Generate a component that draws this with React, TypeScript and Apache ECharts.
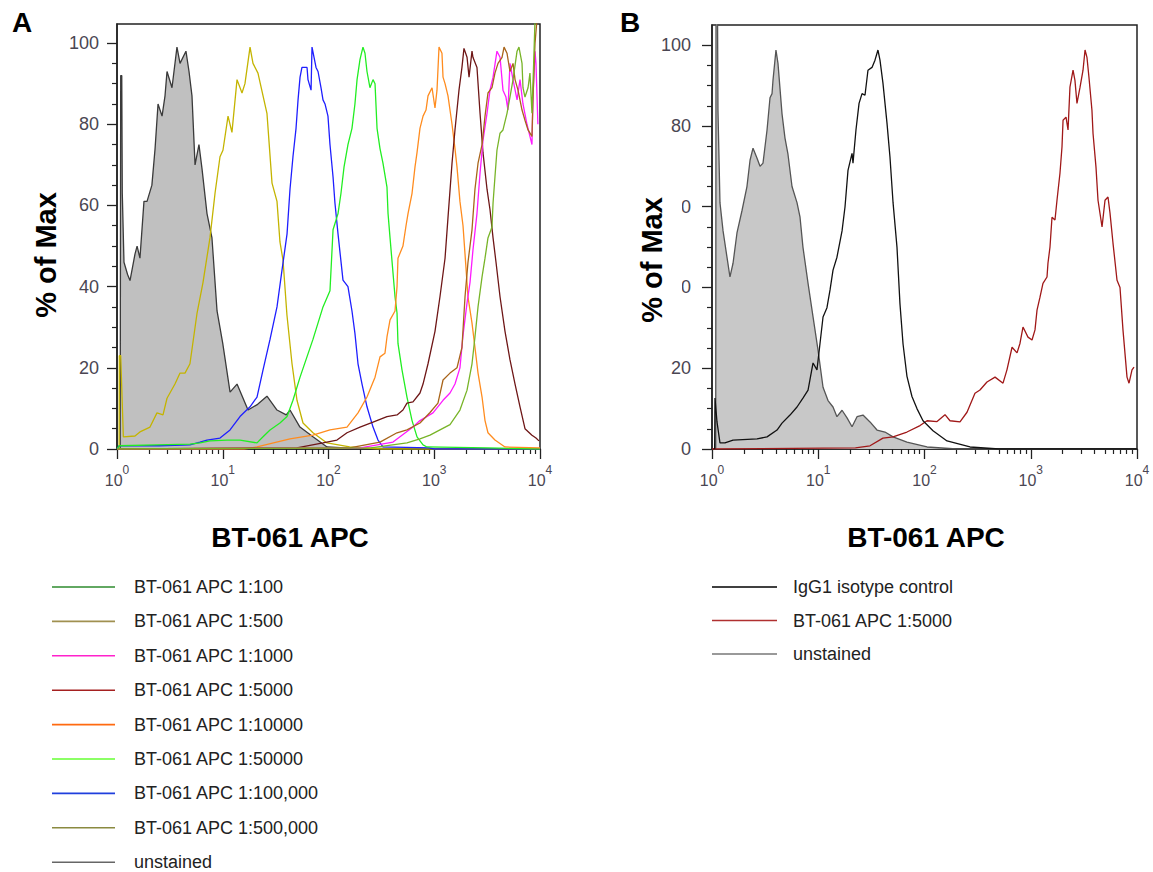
import React, { useEffect, useRef } from "react";
import * as echarts from "echarts";

const FONT = "'Liberation Sans', Arial, Helvetica, sans-serif";
const LABEL_COLOR = "#4a4652";
const AXIS_COLOR = "#222";

// x = log10(BT-061 APC intensity), y = % of Max
const decadeTicks = [0, 1, 2, 3, 4];
const yMajorTicks = [0, 20, 40, 60, 80, 100];
const yMinorTicks = [5, 10, 15, 25, 30, 35, 45, 50, 55, 65, 70, 75, 85, 90, 95];
const minorFactors = [2, 3, 4, 5, 6, 7, 8, 9];

// ---------- Panel A ----------
const aUnstained = [[0.03,0],[0.035,92],[0.045,92],[0.05,63],[0.066,46],[0.1,43],[0.123,41.5],[0.17,48],[0.19,50],[0.217,47],[0.255,61],[0.284,61],[0.33,65],[0.36,74],[0.388,85],[0.426,82],[0.454,87],[0.473,93],[0.52,89],[0.567,99],[0.596,95],[0.652,98],[0.681,93],[0.709,87],[0.738,70],[0.775,75],[0.804,69],[0.851,58],[0.898,52],[0.946,34],[1.0,26],[1.069,14],[1.135,16],[1.239,9.6],[1.33,11],[1.418,13],[1.513,9.6],[1.6,8.4],[1.636,9.6],[1.73,5.4],[1.853,3],[1.986,0.5],[2.2,0.2],[4,0]];
const a500000 = [[0,0],[0.02,0],[0.022,23],[0.035,23],[0.06,3],[0.17,3.2],[0.217,4.2],[0.312,5.4],[0.378,8.9],[0.435,8.4],[0.473,12.5],[0.548,16],[0.596,18.7],[0.643,18.7],[0.69,21],[0.757,33.5],[0.813,41],[0.879,52],[0.927,63],[0.974,72],[1.002,73.6],[1.05,82],[1.087,78],[1.135,91],[1.182,87.7],[1.21,90],[1.258,99],[1.286,95],[1.333,92.6],[1.418,82.7],[1.466,65.5],[1.513,61],[1.541,51],[1.57,46.5],[1.607,33],[1.655,21],[1.702,12],[1.759,6.4],[1.853,4],[1.986,1.5],[2.2,0.5],[2.5,0],[4,0]];
const a100000 = [[0,0],[0.02,0.8],[0.4,0.8],[0.69,1],[0.785,1.7],[0.851,2.2],[0.974,2.7],[1.069,4.7],[1.163,8],[1.258,10.4],[1.324,12.8],[1.381,19.5],[1.447,27],[1.513,35],[1.56,44],[1.608,53],[1.636,64],[1.664,72],[1.693,79],[1.712,86],[1.731,91.6],[1.749,94],[1.797,94],[1.806,91],[1.835,88.4],[1.844,99],[1.882,94],[1.901,93],[1.929,89],[1.948,86],[1.967,85],[1.995,82],[2.014,75],[2.043,67],[2.061,60.6],[2.09,53],[2.137,41.6],[2.184,40],[2.222,34],[2.25,28.5],[2.279,21],[2.317,16],[2.364,10.4],[2.421,5.4],[2.468,2.2],[2.515,0.5],[2.95,0.3],[3.0,0],[4,0]];
const a50000 = [[0,0],[0.02,0.8],[0.378,1],[0.69,1.2],[0.785,1.5],[0.879,2],[1.04,2.2],[1.163,2.2],[1.324,1.5],[1.381,3],[1.447,4.7],[1.541,6.4],[1.608,8],[1.664,12],[1.731,17.7],[1.853,27],[1.948,35],[2.014,39],[2.043,54],[2.09,58],[2.118,63],[2.147,69.5],[2.184,75],[2.222,79],[2.25,85],[2.27,91],[2.298,96],[2.326,99],[2.345,97.5],[2.364,93],[2.392,89],[2.421,91],[2.44,90],[2.459,79],[2.487,74],[2.515,70.4],[2.553,64.5],[2.563,58],[2.582,52],[2.629,37.5],[2.648,33.5],[2.657,26],[2.695,19.5],[2.742,12.8],[2.79,7],[2.837,3],[2.894,1],[2.931,0.5],[3.5,0.3],[4,0]];
const a10000 = [[0,0],[1.2,0],[1.324,0.5],[1.636,2.5],[1.853,3.4],[2.014,4.7],[2.175,5.4],[2.279,8.9],[2.364,12.8],[2.44,17.7],[2.487,22.7],[2.534,23.6],[2.553,27.6],[2.582,31.8],[2.629,34],[2.648,40],[2.657,47],[2.704,50],[2.733,55],[2.752,58],[2.79,63],[2.818,69.5],[2.837,73],[2.865,79],[2.894,82],[2.922,83.5],[2.941,87],[2.979,89],[3.007,84],[3.026,88.4],[3.045,99],[3.073,97.5],[3.083,91.6],[3.102,90],[3.13,87],[3.168,80],[3.196,74],[3.215,69.5],[3.243,61],[3.272,55],[3.291,48],[3.319,37.5],[3.357,31],[3.385,25],[3.414,18.7],[3.452,12.8],[3.48,7],[3.508,4],[3.574,2.2],[3.669,0.5],[4,0.3]];
const a5000 = [[0,0],[1.7,0.3],[1.948,1.5],[2.08,2.2],[2.175,4],[2.298,5.4],[2.421,6.6],[2.553,8],[2.648,8.4],[2.704,9.6],[2.742,11.3],[2.799,11.6],[2.865,13.8],[2.894,16],[2.941,21],[3.007,29],[3.054,37.5],[3.102,47],[3.13,57],[3.168,70.4],[3.196,78.6],[3.234,88.4],[3.262,94],[3.281,98.7],[3.31,96.5],[3.329,91.6],[3.357,98],[3.366,96.5],[3.404,94],[3.433,82.7],[3.461,73],[3.499,64],[3.527,59],[3.556,52],[3.584,46],[3.622,37.5],[3.669,29],[3.716,22],[3.764,16],[3.811,10.4],[3.858,5],[3.924,3.4],[3.962,2.7],[3.99,2]];
const a1000 = [[0,0],[2.3,0.3],[2.61,1.7],[2.799,5.4],[2.865,7],[2.988,8.9],[3.083,12],[3.149,13.8],[3.196,16],[3.243,20],[3.272,28],[3.31,36],[3.338,41],[3.366,49],[3.404,58],[3.433,68],[3.461,76],[3.499,82.7],[3.527,88.4],[3.556,91.6],[3.593,98],[3.622,96.5],[3.65,88.4],[3.678,86.7],[3.697,83.5],[3.716,95],[3.745,91],[3.783,86],[3.811,91],[3.839,85],[3.877,80],[3.905,77],[3.924,75],[3.934,86.7],[3.953,98],[3.962,95],[3.98,80]];
const a500 = [[0,0],[2.2,0.3],[2.487,1.7],[2.648,4],[2.742,4.7],[2.865,6.4],[2.96,9],[3.035,11.3],[3.083,17],[3.149,18.7],[3.215,20],[3.262,25],[3.291,37.5],[3.319,46],[3.357,54],[3.385,64],[3.414,70.4],[3.452,75],[3.48,82],[3.508,87.7],[3.546,89],[3.574,92.6],[3.603,95],[3.641,96.5],[3.66,99],[3.688,97.5],[3.716,93],[3.745,95],[3.764,91],[3.792,88.4],[3.83,83.5],[3.858,81],[3.887,78.6],[3.924,77],[3.934,86.7],[3.953,100],[3.972,106],[4,106]];
const a100 = [[0,0],[2.4,0.3],[2.742,1.5],[2.865,2.5],[2.96,3.4],[3.054,4.7],[3.149,6],[3.243,9.6],[3.31,14.5],[3.357,21],[3.385,27.6],[3.414,35],[3.452,42.4],[3.48,47],[3.508,52],[3.546,54.7],[3.556,60.6],[3.574,67],[3.593,73.6],[3.622,77.8],[3.65,78.6],[3.688,82.7],[3.716,86.7],[3.745,91],[3.783,98],[3.801,99],[3.83,95],[3.839,89],[3.858,86.7],[3.887,89],[3.905,92.6],[3.924,82.7],[3.94,95],[3.953,106],[4,106]];

// ---------- Panel B ----------
const bUnstained = [[0.035,0],[0.038,120],[0.05,120],[0.056,84],[0.075,61],[0.104,54],[0.141,47.5],[0.169,42.6],[0.198,46],[0.235,53.5],[0.282,59],[0.329,65],[0.358,71.5],[0.386,74.5],[0.424,72],[0.452,70],[0.48,70.8],[0.518,79],[0.546,87],[0.565,88],[0.574,91.3],[0.602,98.8],[0.621,95.5],[0.659,83],[0.687,77],[0.715,73],[0.753,65],[0.8,61],[0.828,57.5],[0.856,50],[0.904,41],[0.951,32.7],[0.998,24.5],[1.045,15.3],[1.092,12],[1.139,10.4],[1.176,8],[1.224,9.6],[1.271,7.7],[1.318,5.5],[1.365,8],[1.421,8.4],[1.487,6.7],[1.553,4.7],[1.628,4.2],[1.704,3],[1.835,1.7],[2.024,0.5],[2.3,0],[4,0]];
const bIsotype = [[0.025,0],[0.028,12.6],[0.047,6.7],[0.075,1.5],[0.122,1.5],[0.198,2.2],[0.424,2.5],[0.518,3],[0.612,4.7],[0.659,6.4],[0.734,8.4],[0.8,10.4],[0.856,12.6],[0.904,14.6],[0.951,21.3],[0.988,19.6],[1.016,26],[1.045,32.7],[1.082,35],[1.111,39.4],[1.139,44.3],[1.176,47.5],[1.224,54],[1.252,60],[1.28,69],[1.318,73.2],[1.327,70.8],[1.355,79],[1.384,85.6],[1.412,88],[1.44,87.6],[1.468,93.8],[1.506,94.5],[1.534,96.3],[1.562,98.8],[1.581,96.3],[1.609,90.6],[1.647,80.7],[1.675,72.3],[1.704,61],[1.741,50],[1.769,36],[1.798,26],[1.835,18],[1.882,13],[1.929,10],[1.986,7],[2.08,4.5],[2.212,2],[2.428,0.5],[2.7,0],[4,0]];
const b5000 = [[0,0],[1.35,0.3],[1.487,0.8],[1.609,2.7],[1.704,3],[1.835,4.2],[1.958,5.8],[2.024,7],[2.118,6.8],[2.193,8.5],[2.24,7],[2.334,6.7],[2.4,9.1],[2.475,13.8],[2.522,14.6],[2.588,16.6],[2.664,17.8],[2.739,16.3],[2.776,19.6],[2.824,25.2],[2.871,23.8],[2.899,26.2],[2.927,30.2],[2.974,27.7],[3.012,27],[3.04,29.5],[3.059,34.4],[3.087,37.6],[3.115,41],[3.153,42.6],[3.162,46],[3.181,50],[3.2,57.4],[3.228,56.7],[3.247,61.6],[3.275,68.3],[3.294,74.8],[3.304,81.4],[3.332,82.2],[3.351,79],[3.369,89.6],[3.398,93.8],[3.416,91.3],[3.435,85.6],[3.464,89.6],[3.492,93.8],[3.511,98.8],[3.529,97],[3.548,92],[3.576,83.9],[3.586,78.2],[3.614,69.8],[3.633,61.6],[3.671,55],[3.699,61.6],[3.727,62.4],[3.746,58.4],[3.774,51],[3.812,41.8],[3.84,40],[3.868,29.5],[3.906,17.8],[3.925,16.3],[3.953,19.6],[3.972,20.3]];

const namesA = ["BT-061 APC 1:100","BT-061 APC 1:500","BT-061 APC 1:1000","BT-061 APC 1:5000","BT-061 APC 1:10000","BT-061 APC 1:50000","BT-061 APC 1:100,000","BT-061 APC 1:500,000","unstained"];
const legendColorsA = ["#2e8b2e","#a09050","#ff22cc","#a52020","#ff6a10","#66ff33","#1f3fdd","#8a8a40","#666666"];
const namesB = ["IgG1 isotype control","BT-061 APC 1:5000","unstained"];
const legendColorsB = ["#000000","#b03030","#777777"];

const minorX: number[] = [];
decadeTicks.slice(0, 4).forEach((d) => minorFactors.forEach((f) => minorX.push(d + Math.log10(f))));

function xMain(gridIndex: number) {
  return {
    type: "value", gridIndex, min: 0, max: 4, position: "bottom",
    axisLine: { show: true, onZero: false, lineStyle: { color: AXIS_COLOR, width: 1.5 } },
    axisTick: { show: true, customValues: decadeTicks, length: 10, lineStyle: { color: AXIS_COLOR, width: 1.3 } },
    axisLabel: {
      customValues: decadeTicks, margin: 15,
      formatter: (v: number) => `{b|10}{s|${Math.round(v)}}`,
      rich: {
        b: { fontSize: 16, fontFamily: FONT, color: LABEL_COLOR, lineHeight: 32 },
        s: { fontSize: 12, fontFamily: FONT, color: LABEL_COLOR, lineHeight: 10, verticalAlign: "top" },
      },
    },
    splitLine: { show: false },
  };
}
function xMinor(gridIndex: number) {
  return {
    type: "value", gridIndex, min: 0, max: 4, position: "bottom",
    axisLine: { show: false },
    axisTick: { show: true, customValues: minorX, length: 5, lineStyle: { color: AXIS_COLOR, width: 1.2 } },
    axisLabel: { show: false }, splitLine: { show: false },
  };
}
function yMain(gridIndex: number, max: number, margin: number) {
  return {
    type: "value", gridIndex, min: 0, max, position: "left",
    axisLine: { show: true, onZero: false, lineStyle: { color: AXIS_COLOR, width: 1.5 } },
    axisTick: { show: true, customValues: yMajorTicks, length: 10, lineStyle: { color: AXIS_COLOR, width: 1.3 } },
    axisLabel: { customValues: yMajorTicks, margin, fontSize: 18, fontFamily: FONT, color: LABEL_COLOR },
    splitLine: { show: false },
  };
}
function yMinor(gridIndex: number, max: number) {
  return {
    type: "value", gridIndex, min: 0, max, position: "left",
    axisLine: { show: false },
    axisTick: { show: true, customValues: yMinorTicks, length: 5, lineStyle: { color: AXIS_COLOR, width: 1.2 } },
    axisLabel: { show: false }, splitLine: { show: false },
  };
}
function line(name: string, data: number[][], color: string, axis: number, area?: string) {
  const s: any = {
    type: "line", name, data, xAxisIndex: axis, yAxisIndex: axis,
    showSymbol: false, symbol: "none", silent: true, clip: true,
    lineStyle: { color, width: 1.3 }, itemStyle: { color },
  };
  if (area) s.areaStyle = { color: area, opacity: 1 };
  return s;
}
function legendData(names: string[], colors: string[]) {
  return names.map((n, i) => ({ name: n, itemStyle: { color: colors[i] } }));
}

export default function App() {
  const ref = useRef<HTMLDivElement>(null);
  useEffect(() => {
    if (!ref.current) return;
    const chart = echarts.init(ref.current, null, { renderer: "svg" });
    const legendText = { fontFamily: FONT, fontSize: 18, color: "#222", lineHeight: 18 };
    chart.setOption({
      animation: false,
      backgroundColor: "#fff",
      title: [
        { text: "A", left: 7, top: 3, textStyle: { fontFamily: FONT, fontSize: 28, fontWeight: "bold", color: "#000" } },
        { text: "B", left: 615, top: 3, textStyle: { fontFamily: FONT, fontSize: 28, fontWeight: "bold", color: "#000" } },
      ],
      legend: [
        {
          orient: "vertical", left: 47, top: 573, height: 330, itemWidth: 63, itemHeight: 1.6, itemGap: 16.4,
          icon: "rect", selectedMode: false, textStyle: { ...legendText, padding: [0, 0, 0, 14] },
          data: legendData(namesA, legendColorsA),
        },
        {
          orient: "vertical", left: 707, top: 573, height: 200, itemWidth: 65, itemHeight: 1.6, itemGap: 15.5,
          icon: "rect", selectedMode: false, textStyle: { ...legendText, padding: [0, 0, 0, 11] },
          data: legendData(namesB, legendColorsB),
        },
      ],
      grid: [
        { left: 117, top: 24, width: 423, height: 425, show: true, borderColor: AXIS_COLOR, borderWidth: 1.5, outerBoundsMode: "none" },
        { left: 712, top: 25, width: 425, height: 424, show: true, borderColor: AXIS_COLOR, borderWidth: 1.5, outerBoundsMode: "none" },
      ],
      xAxis: [xMain(0), xMinor(0), xMain(1), xMinor(1)],
      yAxis: [yMain(0, 104.7, 18), yMinor(0, 104.7), yMain(1, 105, 21), yMinor(1, 105)],
      series: [
        line("unstained", aUnstained, "#3a3a3a", 0, "#c0c0c0"),
        line("BT-061 APC 1:500,000", a500000, "#c4b400", 0),
        line("BT-061 APC 1:100,000", a100000, "#1e1eff", 0),
        line("BT-061 APC 1:50000", a50000, "#22ee22", 0),
        line("BT-061 APC 1:10000", a10000, "#ff8c1f", 0),
        line("BT-061 APC 1:5000", a5000, "#6e1616", 0),
        line("BT-061 APC 1:1000", a1000, "#ff1aff", 0),
        line("BT-061 APC 1:500", a500, "#a8641a", 0),
        line("BT-061 APC 1:100", a100, "#78b428", 0),
        line("unstained", bUnstained, "#555555", 2, "#c8c8c8"),
        line("BT-061 APC 1:5000", b5000, "#a01818", 2),
        line("IgG1 isotype control", bIsotype, "#111111", 2),
      ],
      graphic: [
        { type: "text", x: 46, y: 255, rotation: Math.PI / 2, style: { text: "% of Max", fontFamily: FONT, fontSize: 29, fontWeight: "bold", fill: "#000", align: "center", verticalAlign: "middle" } },
        { type: "text", x: 652, y: 260, rotation: Math.PI / 2, style: { text: "% of Max", fontFamily: FONT, fontSize: 29, fontWeight: "bold", fill: "#000", align: "center", verticalAlign: "middle" } },
        { type: "text", x: 290, y: 537, style: { text: "BT-061 APC", fontFamily: FONT, fontSize: 28, fontWeight: "bold", fill: "#000", align: "center", verticalAlign: "middle" } },
        { type: "text", x: 926, y: 537, style: { text: "BT-061 APC", fontFamily: FONT, fontSize: 28, fontWeight: "bold", fill: "#000", align: "center", verticalAlign: "middle" } },
        { type: "rect", z: 100, shape: { x: 666, y: 196, width: 16, height: 102 }, style: { fill: "#fff" } },
      ],
    });
    return () => chart.dispose();
  }, []);
  return <div ref={ref} style={{ position: "fixed", left: 0, top: 0, width: 1153, height: 872 }} />;
}
